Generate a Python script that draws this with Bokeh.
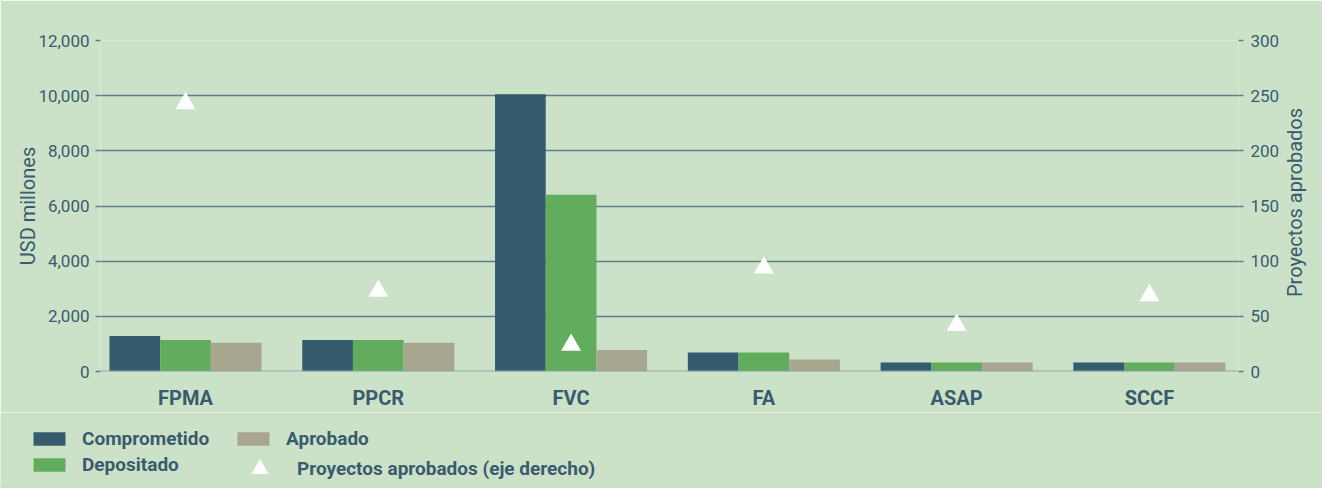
import math
import numpy as np
from bokeh.plotting import figure
from bokeh.models import (Range1d, LinearAxis, FixedTicker, NumeralTickFormatter,
                          Legend, LegendItem, Span, ColumnDataSource, Label)
from bokeh.embed import file_html
from bokeh.resources import INLINE

categories = ["FPMA", "PPCR", "FVC", "FA", "ASAP", "SCCF"]
comprometido = [1290, 1145, 10050, 690, 330, 330]
depositado = [1145, 1145, 6410, 690, 330, 330]
aprobado = [1040, 1040, 780, 435, 330, 330]
proyectos = [243, 73, 24, 94, 42, 69]
left_ticks = [0, 2000, 4000, 6000, 8000, 10000, 12000]
right_ticks = [0, 50, 100, 150, 200, 250, 300]
series_labels = ["Comprometido", "Depositado", "Aprobado"]
marker_label = "Proyectos aprobados (eje derecho)"
left_title = "USD millones"
right_title = "Proyectos aprobados"

BG = "#cbe2c8"
DARK = "#375b6e"
GREEN = "#62ad5d"
TAN = "#a8a68f"
TXT = "#3a5b6e"
GRID = "#5f7f86"
FONT = "Roboto"

W = 1322
xpos = np.arange(len(categories))
bw = 0.263
src = ColumnDataSource(dict(
    x=xpos, xd=xpos - bw, xg=xpos, xt=xpos + bw,
    c=comprometido, d=depositado, a=aprobado, pr=proyectos,
))

p = figure(width=W, height=412, output_backend="svg", toolbar_location=None,
           x_range=Range1d(-0.441, 5.462), y_range=Range1d(0, 12000))
p.min_border_left = 100
p.min_border_right = 84
p.min_border_top = 40
p.min_border_bottom = 33
p.background_fill_color = BG
p.border_fill_color = BG
p.outline_line_color = None

p.extra_y_ranges = {"proj": Range1d(0, 300)}

r_c = p.vbar(x="xd", top="c", width=bw, source=src, fill_color=DARK, line_color=None)
r_d = p.vbar(x="xg", top="d", width=bw, source=src, fill_color=GREEN, line_color=None)
r_a = p.vbar(x="xt", top="a", width=bw, source=src, fill_color=TAN, line_color=None)
r_p = p.scatter(x="x", y="pr", source=src, marker="triangle", size=20,
                fill_color="white", line_color=None, y_range_name="proj")

p.add_layout(Span(location=0, dimension="width", line_color="#8fa5a6", line_width=2))

p.xgrid.grid_line_color = None
p.ygrid.ticker = FixedTicker(ticks=left_ticks)
p.ygrid.grid_line_color = GRID
p.ygrid.grid_line_width = 1.5

xa = p.xaxis[0]
xa.ticker = FixedTicker(ticks=list(xpos))
xa.major_label_overrides = {int(i): c for i, c in zip(xpos, categories)}
xa.axis_line_color = None
xa.major_tick_line_color = None
xa.minor_tick_line_color = None
xa.major_label_text_font = FONT
xa.major_label_text_font_style = "bold"
xa.major_label_text_font_size = "20px"
xa.major_label_text_color = TXT
xa.major_label_standoff = 8

ya = p.yaxis[0]
ya.ticker = FixedTicker(ticks=left_ticks)
ya.formatter = NumeralTickFormatter(format="0,0")
ya.axis_line_color = None
ya.major_tick_out = 5
ya.major_tick_in = 0
ya.major_tick_line_color = GRID
ya.major_tick_line_width = 1.5
ya.minor_tick_line_color = None
ya.major_label_text_font = FONT
ya.major_label_text_font_size = "17px"
ya.major_label_text_color = TXT
ya.major_label_standoff = 6
ya.axis_label = left_title
ya.axis_label_text_font = FONT
ya.axis_label_text_font_style = "normal"
ya.axis_label_text_font_size = "20px"
ya.axis_label_text_color = TXT
ya.axis_label_standoff = -5

ra = LinearAxis(y_range_name="proj", ticker=FixedTicker(ticks=right_ticks))
ra.axis_line_color = None
ra.major_tick_out = 5
ra.major_tick_in = 0
ra.major_tick_line_color = GRID
ra.major_tick_line_width = 1.5
ra.minor_tick_line_color = None
ra.major_label_text_font = FONT
ra.major_label_text_font_size = "17px"
ra.major_label_text_color = TXT
ra.major_label_standoff = 7
p.add_layout(ra, "right")

# right axis title: rotated label placed in the right side panel
p.add_layout(Label(x=12, y=169, x_units="screen", y_units="screen",
                   text=right_title, angle=math.pi / 2,
                   text_align="center", text_baseline="middle",
                   text_font=FONT, text_font_size="20px", text_color=TXT), "right")

# ---- legend strip ----
lg = figure(width=W, height=76, output_backend="svg", toolbar_location=None,
            x_range=Range1d(0, W), y_range=Range1d(0, 76),
            x_axis_type=None, y_axis_type=None)
lg.min_border = 0
lg.min_border_left = 0
lg.min_border_right = 0
lg.min_border_top = 0
lg.min_border_bottom = 0
lg.background_fill_color = BG
lg.border_fill_color = BG
lg.outline_line_color = None
lg.xgrid.grid_line_color = None
lg.ygrid.grid_line_color = None

l_c = lg.vbar(x=[-100], top=[1], width=1, fill_color=DARK, line_color=None)
l_d = lg.vbar(x=[-100], top=[1], width=1, fill_color=GREEN, line_color=None)
l_a = lg.vbar(x=[-100], top=[1], width=1, fill_color=TAN, line_color=None)
l_p = lg.scatter(x=[-100], y=[1], marker="triangle", size=20,
                 fill_color="white", line_color=None)

leg_common = dict(
    label_text_font=FONT, label_text_font_style="bold", label_text_font_size="19px",
    label_text_color=TXT, background_fill_alpha=0, border_line_color=None,
    padding=0, margin=0,
)
leg1 = Legend(items=[LegendItem(label=series_labels[0], renderers=[l_c]),
                     LegendItem(label=series_labels[1], renderers=[l_d]),
                     LegendItem(label=series_labels[2], renderers=[l_a])],
              orientation="vertical", nrows=2,
              glyph_width=40, glyph_height=17, label_height=17, label_width=148,
              label_standoff=13, spacing=3, location=(29, 12), **leg_common)
leg2 = Legend(items=[LegendItem(label=marker_label, renderers=[l_p])],
              glyph_width=43, glyph_height=43, label_height=43,
              label_standoff=16, spacing=0, location=(238, -2), **leg_common)
lg.add_layout(leg1)
lg.add_layout(leg2)

open("out.html", "w").write(file_html([p, lg], INLINE))
